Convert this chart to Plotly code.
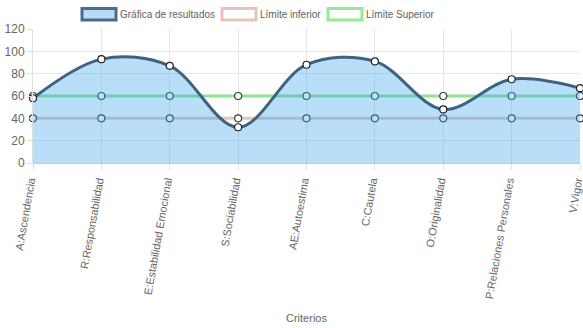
import plotly.graph_objects as go

categorias = ["A:Ascendencia", "R:Responsabilidad", "E:Estabilidad Emocional",
              "S:Sociabilidad", "AE:Autoestima", "C:Cautela", "O:Originalidad",
              "P:Relaciones Personales", "V:Vigor"]
resultados = [58, 93, 87, 32, 88, 91, 48, 75, 67]
limite_inferior = [40, 40, 40, 40, 40, 40, 40, 40, 40]
limite_superior = [60, 60, 60, 60, 60, 60, 60, 60, 60]
y_ticks = [0, 20, 40, 60, 80, 100, 120]

xs = list(range(len(categorias)))

W, H = 583, 328
L, R, T, B = 33, 3, 29, 165
PW, PH = W - L - R, H - T - B

def px_x(p):
    return (p - L) / PW

def px_y(p):
    return (H - B - p) / PH

fig = go.Figure()

fig.add_trace(go.Scatter(
    x=xs, y=limite_superior, mode="lines+markers", name="Límite Superior",
    line=dict(color="#8fe58f", width=3),
    marker=dict(size=7, color="white", line=dict(color="#3a3a3a", width=1.2)),
    cliponaxis=False, showlegend=False))
fig.add_trace(go.Scatter(
    x=xs, y=limite_inferior, mode="lines+markers", name="Límite inferior",
    line=dict(color="#e6c4ba", width=3),
    marker=dict(size=7, color="white", line=dict(color="#3a3a3a", width=1.2)),
    cliponaxis=False, showlegend=False))
fig.add_trace(go.Scatter(
    x=xs, y=resultados, mode="lines", name="Gráfica de resultados",
    line=dict(color="#3f6282", width=3, shape="spline", smoothing=1.0),
    fill="tozeroy", fillcolor="rgba(54,162,235,0.35)",
    cliponaxis=False, showlegend=False))
fig.add_trace(go.Scatter(
    x=xs, y=resultados, mode="markers",
    marker=dict(size=7, color="white", line=dict(color="#222", width=1.2)),
    cliponaxis=False, showlegend=False))

# manual legend (boxes + labels)
legend_items = [
    ("Gráfica de resultados", "#b9dbf7", "#4a6c8c", 82, 116),
    ("Límite inferior", "white", "#e6c4ba", 222, 256),
    ("Límite Superior", "white", "#93ea93", 328, 362),
]
for name, fc, lc, x0, x1 in legend_items:
    fig.add_shape(type="rect", xref="paper", yref="paper",
                  x0=px_x(x0), x1=px_x(x1), y0=px_y(20), y1=px_y(8.5),
                  fillcolor=fc, line=dict(color=lc, width=3), layer="above")
    fig.add_annotation(xref="paper", yref="paper", x=px_x(x1 + 2), y=px_y(14.5),
                       text=name, showarrow=False, xanchor="left", yanchor="middle",
                       font=dict(size=10, color="#5f5f5f"))

fig.update_layout(
    width=W, height=H,
    margin=dict(l=L, r=R, t=T, b=B),
    paper_bgcolor="white", plot_bgcolor="white",
    font=dict(family="Liberation Sans, Arial, sans-serif", size=12, color="#666"),
    showlegend=False,
)
fig.update_xaxes(
    range=[0, 8], tickvals=xs, ticktext=categorias, tickangle=-80,
    showgrid=True, gridcolor="#e6e6e6", zeroline=False,
    showline=False, ticks="outside", ticklen=6, tickcolor="#e0e0e0",
    tickfont=dict(size=11, color="#666"), automargin=False,
    ticklabeloverflow="allow", ticklabelshift=-3,
    title=dict(text="Criterios", font=dict(size=11, color="#666"), standoff=15))
fig.update_yaxes(
    range=[0, 120], tickvals=y_ticks, showgrid=True, gridcolor="#e6e6e6",
    zeroline=True, zerolinecolor="#c8c8c8", zerolinewidth=1,
    showline=True, linecolor="#e0e0e0", automargin=False,
    ticks="outside", ticklen=5, tickcolor="#e0e0e0",
    tickfont=dict(size=12, color="#666"))

fig.write_html("out.html")
